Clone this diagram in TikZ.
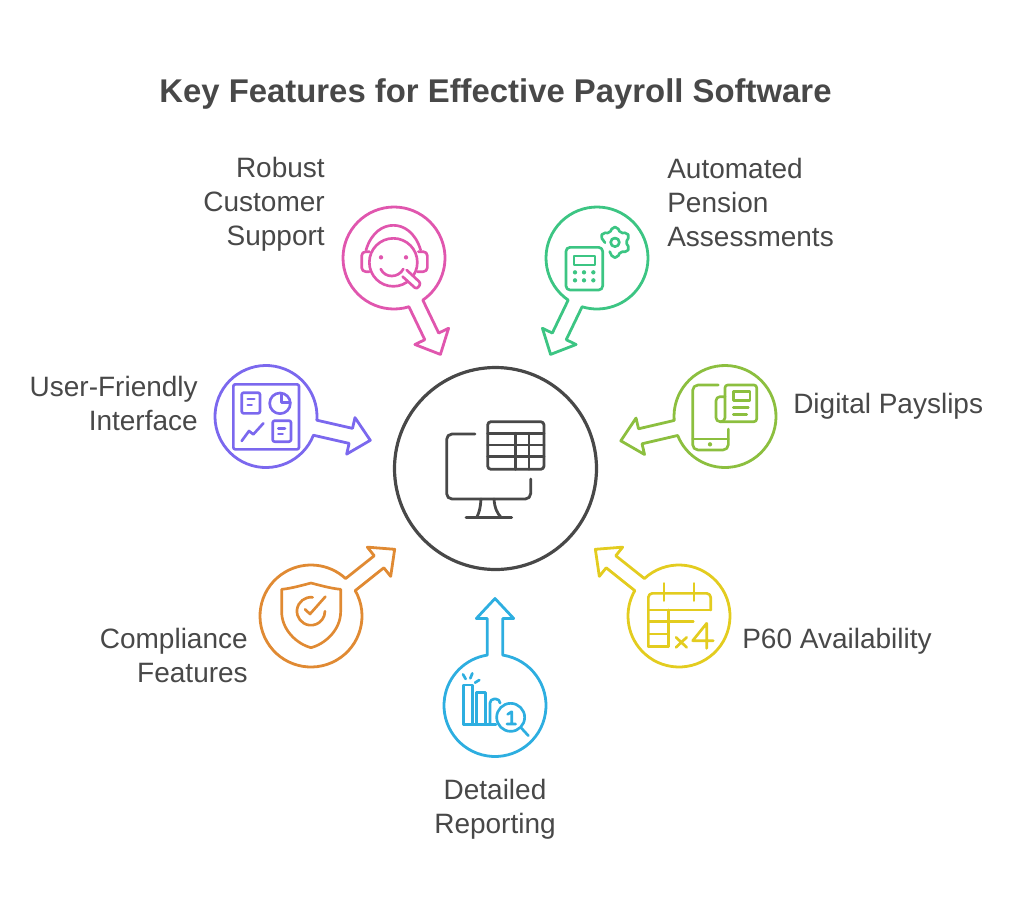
\documentclass[tikz,border=0pt]{standalone}
\usepackage{fontspec}
\setmainfont{Liberation Sans}
\definecolor{ink}{HTML}{484848}
\definecolor{pinkline}{HTML}{E056AE}
\definecolor{greenline}{HTML}{3CC583}
\definecolor{purpleline}{HTML}{7B68EE}
\definecolor{limeline}{HTML}{8CBF3F}
\definecolor{yellowline}{HTML}{E3CC1F}
\definecolor{blueline}{HTML}{2DAEE0}
\definecolor{orangeline}{HTML}{E08A33}
\tikzset{
  bubbleline/.style={line width=2.1pt,line join=round},
  iconline/.style={line width=2pt,line cap=round,line join=round},
  iconframe/.style 2 args={shift={(#1,#2)},x=0.25pt,y=-0.25pt},
  lbl/.style={font=\fontsize{21}{25.5}\selectfont,text=ink,inner sep=0pt},
}
\begin{document}
\begin{tikzpicture}[x=0.75pt,y=-0.75pt]
\useasboundingbox (0,0) rectangle (1024,907);
\node[font=\bfseries\fontsize{24.65}{30}\selectfont,text=ink,inner sep=0pt] (title) at (495.5,94) {Key Features for Effective Payroll Software};
% hub
\node[circle,draw=ink,line width=2.4pt,minimum size=151.5pt] (hub) at (495.5,468.5) {};
\begin{scope}[iconframe={420}{400},draw=ink,iconline,line width=2.1pt]
  \draw[rounded corners=4pt] (165,102) -- (80,102) -- (80,297) -- (332,297) -- (332,237);
  \draw (183,297) .. controls (181,325) and (177,340) .. (170,352);
  \draw (222,297) .. controls (224,325) and (232,340) .. (243,352);
  \draw (138,352) -- (275,352);
  \draw[rounded corners=2.5pt] (203,65) rectangle (372,208);
  \foreach \rowy in {100,135,170} {\draw (203,\rowy) -- (372,\rowy);}
  \foreach \colx in {287,327} {\draw (\colx,100) -- (\colx,208);}
\end{scope}
% bubbles with their arrows
\foreach \bname/\bx/\by/\bang/\bcol in {
  robust/394/258/-64.29/pinkline,
  pension/597/258/-115.71/greenline,
  friendly/266/416.5/-12.86/purpleline,
  payslip/725/416.5/193.14/limeline,
  comply/311/616/38.57/orangeline,
  availability/679/616/141.43/yellowline,
  reporting/495/705.5/90/blueline} {
  \coordinate (\bname) at (\bx,\by);
  \begin{scope}[shift={(\bname)},rotate=\bang]
    \draw[bubbleline,draw=\bcol] (8.7:51) arc[start angle=8.7,end angle=351.3,radius=51]
      -- (87,-7.7) -- (87,-18.7) -- (107,0) -- (87,18.7) -- (87,7.7) -- cycle;
  \end{scope}
}
% headset
\begin{scope}[iconframe={330}{200},draw=pinkline,iconline]
  \draw (190,187) circle (72);
  \draw (108,150) .. controls (125,95) and (160,76) .. (190,76) .. controls (220,76) and (255,95) .. (272,150);
  \draw[rounded corners=3pt] (118,155) -- (95,155) -- (95,215) -- (118,215);
  \draw[rounded corners=3pt] (265,155) -- (292,155) -- (292,215) -- (262,215);
  \fill[pinkline] (153,172) circle (6.5) (228,172) circle (6.5);
  \draw (152,207) .. controls (165,235) and (205,235) .. (220,207);
  \draw[fill=white,rounded corners=2pt] (230,210) -- (273,250) -- (260,268) -- (218,230);
\end{scope}
% calculator and gear
\begin{scope}[iconframe={330}{200},draw=greenline,iconline]
  \draw[rounded corners=3pt] (708,142) rectangle (818,270);
  \draw (732,168) rectangle (795,195);
  \foreach \dotx in {735,762,790} {
    \fill[greenline] (\dotx,217) circle (6.5) (\dotx,241) circle (6.5);
  }
  \begin{scope}[shift={(855,127)}]
    \draw (0,0) circle (13);
    \draw[rounded corners=1.5pt] (178:30) -- (-159:46) -- (-141:46) -- (-120:32) -- (-99:46) -- (-81:46)
      -- (-60:32) -- (-39:46) -- (-21:46) -- (0:32) -- (21:46) -- (39:46) -- (60:32) -- (81:46) -- (99:46) -- (120:32);
  \end{scope}
\end{scope}
% dashboard
\begin{scope}[iconframe={200}{350},draw=purpleline,iconline]
  \draw[rounded corners=1.5pt] (100,103) rectangle (297,298);
  \draw[rounded corners=1.5pt] (125,128) rectangle (180,190);
  \draw (143,147) -- (163,147) (143,165) -- (155,165);
  \draw (240,160) circle (31);
  \draw (244,130) -- (244,157) -- (271,157);
  \draw[rounded corners=1.5pt] (218,212) rectangle (273,275);
  \draw (235,235) -- (255,235) (235,252) -- (248,252);
  \draw (125,273) -- (147,243) -- (160,253) -- (190,220);
\end{scope}
% phone and newspaper
\begin{scope}[iconframe={610}{350},draw=limeline,iconline]
  \draw[rounded corners=4pt] (325,105) -- (248,105) -- (248,300) -- (355,300) -- (355,237);
  \draw (248,267) -- (355,267);
  \fill[limeline] (300,283) circle (6.5);
  \draw[rounded corners=2pt] (345,140) -- (345,105) -- (440,105) -- (440,215) -- (332,215);
  \draw[rounded corners=3pt] (345,140) -- (318,140) -- (318,215) -- (345,215) -- (345,140);
  \draw (370,125) rectangle (420,152);
  \draw (370,172) -- (415,172) (370,193) -- (410,193);
\end{scope}
% shield
\begin{scope}[iconframe={250}{540},draw=orangeline,iconline]
  \draw (95,148) .. controls (125,145) and (160,135) .. (183,129) .. controls (206,135) and (241,145) .. (272,148)
    -- (272,215) .. controls (272,270) and (225,312) .. (183,323) .. controls (141,312) and (95,270) .. (95,215) -- cycle;
  \draw (188,172) arc[start angle=-83,end angle=-360,radius=42];
  \draw (165,208) -- (180,222) -- (226,170);
\end{scope}
% calendar
\begin{scope}[iconframe={590}{540},draw=yellowline,iconline]
  \draw[rounded corners=3pt] (175,320) -- (175,160) -- (362,160) -- (362,210);
  \draw (175,210) -- (362,210) (175,245) -- (310,245) (175,282) -- (235,282) (175,320) -- (235,320) (235,210) -- (235,320);
  \draw (222,130) -- (222,182) (312,130) -- (312,182);
  \draw (258,292) -- (290,322) (290,292) -- (258,322);
  \draw (350,325) -- (350,250) -- (308,302) -- (370,302);
\end{scope}
% bars and magnifier
\begin{scope}[iconframe={435}{595},draw=blueline,iconline]
  \draw (85,388) -- (85,270) -- (112,270) -- (112,388);
  \draw (125,388) -- (125,292) -- (152,292) -- (152,388);
  \draw[rounded corners=3pt] (165,388) -- (165,312) -- (195,312) -- (195,322);
  \draw (85,388) -- (183,388);
  \draw[fill=white] (227,367) circle (42);
  \draw (258,398) -- (280,422);
  \draw (218,358) -- (230,350) -- (230,387) (216,387) -- (242,387);
  \draw (84,238) -- (92,252) (112,235) -- (106,250) (133,255) -- (120,263);
\end{scope}
% labels
\node[lbl,align=right,anchor=east] (robusttext) at (325,204.5) {Robust\\Customer\\Support};
\node[lbl,align=left,anchor=west] (pensiontext) at (667,202) {Automated\\Pension\\Assessments};
\node[lbl,align=right,anchor=east] (friendlytext) at (198,403) {User-Friendly\\Interface};
\node[lbl,anchor=west] (payslipstext) at (793,406) {Digital Payslips};
\node[lbl,align=right,anchor=east] (complytext) at (248,655) {Compliance\\Features};
\node[lbl,anchor=west] (p60text) at (742,641) {P60 Availability};
\node[lbl,align=center] (reportingtext) at (495,809) {Detailed\\Reporting};
\end{tikzpicture}
\end{document}
